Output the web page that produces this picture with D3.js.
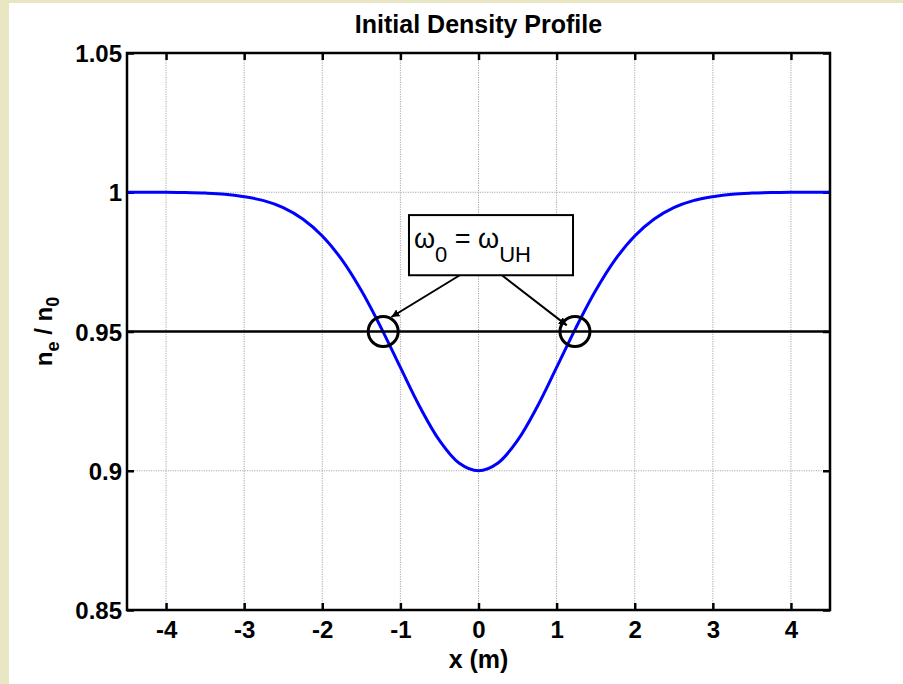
<!DOCTYPE html>
<html><head><meta charset="utf-8">
<script src="https://cdn.jsdelivr.net/npm/d3@7"></script>
<style>
html,body{margin:0;padding:0;background:#e9e6c4;}
svg{display:block;}
text{font-family:"Liberation Sans",Arial,Helvetica,sans-serif;}
</style></head>
<body>
<svg id="chart" width="903" height="684"></svg>
<script>
// ---- data ----
const xValues = [-4.5,-4.25,-4,-3.75,-3.5,-3.25,-3,-2.75,-2.5,-2.25,-2,-1.75,-1.5,-1.25,-1,-0.75,-0.5,-0.25,0,
                 0.25,0.5,0.75,1,1.25,1.5,1.75,2,2.25,2.5,2.75,3,3.25,3.5,3.75,4,4.25,4.5];
const densityValues = [1.0,1.0,1.0,0.9999,0.9997,0.9993,0.9984,0.9970,0.9945,0.9904,0.9843,0.9758,0.9647,0.9515,0.9371,0.9229,0.9109,0.9028,0.9,
                 0.9028,0.9109,0.9229,0.9371,0.9515,0.9647,0.9758,0.9843,0.9904,0.9945,0.9970,0.9984,0.9993,0.9997,0.9999,1.0,1.0,1.0];
const xTicks = [-4,-3,-2,-1,0,1,2,3,4];
const xTickLabels = ["-4","-3","-2","-1","0","1","2","3","4"];
const yTicks = [0.85,0.9,0.95,1,1.05];
const yTickLabels = ["0.85","0.9","0.95","1","1.05"];
const thresholdValue = 0.95;
const crossingX = [-1.22, 1.235];

const svg = d3.select("#chart");
// white figure area over the parchment background
svg.append("rect").attr("x",9).attr("y",3).attr("width",903-9).attr("height",684-3).attr("fill","#fff");

const L=127, R=830, T=53, B=610;
const x = d3.scaleLinear().domain([-4.5,4.5]).range([L,R]);
const y = d3.scaleLinear().domain([0.85,1.05]).range([B,T]);

// grid
const grid = svg.append("g").attr("stroke","#a8a8a8").attr("stroke-width",1).attr("stroke-dasharray","1.2,1.2");
xTicks.forEach(t=>grid.append("line").attr("x1",x(t)).attr("x2",x(t)).attr("y1",T).attr("y2",B));
yTicks.forEach(t=>grid.append("line").attr("x1",L).attr("x2",R).attr("y1",y(t)).attr("y2",y(t)));

// axes (ticks inward)
const fs = "24px";
const axB = svg.append("g").attr("transform",`translate(0,${B})`)
  .call(d3.axisBottom(x).tickValues(xTicks).tickSize(-7).tickPadding(11).tickFormat((d,i)=>xTickLabels[i]));
const axT = svg.append("g").attr("transform",`translate(0,${T})`)
  .call(d3.axisTop(x).tickValues(xTicks).tickSize(-7).tickFormat(""));
const axL = svg.append("g").attr("transform",`translate(${L},0)`)
  .call(d3.axisLeft(y).tickValues(yTicks).tickSize(-7).tickPadding(5).tickFormat((d,i)=>yTickLabels[i]));
const axR = svg.append("g").attr("transform",`translate(${R},0)`)
  .call(d3.axisRight(y).tickValues(yTicks).tickSize(-7).tickFormat(""));
[axB,axT,axL,axR].forEach(a=>{
  a.select(".domain").remove();
  a.selectAll(".tick line").attr("stroke","#000").attr("stroke-width",2.5);
  a.selectAll(".tick text").attr("fill","#000").style("font-size",fs).style("font-weight","bold")
   .style("font-family","'Liberation Sans',Arial,sans-serif");
});
axL.selectAll(".tick text").attr("dy","0.36em");

// data line
const line = d3.line().x((d,i)=>x(xValues[i])).y(d=>y(d)).curve(d3.curveCatmullRom);
svg.append("path").datum(densityValues).attr("d",line).attr("fill","none").attr("stroke","#0000ff").attr("stroke-width",3);

// threshold line
svg.append("line").attr("x1",L).attr("x2",R).attr("y1",y(thresholdValue)).attr("y2",y(thresholdValue))
  .attr("stroke","#000").attr("stroke-width",2.5);

// frame
svg.append("rect").attr("x",L).attr("y",T).attr("width",R-L).attr("height",B-T)
  .attr("fill","none").attr("stroke","#000").attr("stroke-width",2.5);

// circles
crossingX.forEach(cx=>svg.append("circle").attr("cx",x(cx)).attr("cy",y(thresholdValue)).attr("r",15)
  .attr("fill","none").attr("stroke","#000").attr("stroke-width",3));

// annotation arrows
svg.append("defs").append("marker").attr("id","ah").attr("viewBox","0 0 10 10").attr("refX",10).attr("refY",5)
  .attr("markerWidth",8).attr("markerHeight",8).attr("markerUnits","userSpaceOnUse").attr("orient","auto")
  .append("path").attr("d","M0,0 L10,5 L0,10 z").attr("fill","#000");
const arrows = [[[-0.24,0.9702],[-1.115,0.9552]],[[0.30,0.9702],[1.13,0.9522]]];
arrows.forEach(a=>svg.append("line").attr("x1",x(a[0][0])).attr("y1",y(a[0][1])).attr("x2",x(a[1][0])).attr("y2",y(a[1][1]))
  .attr("stroke","#000").attr("stroke-width",2).attr("marker-end","url(#ah)"));

// annotation box
const bx0=x(-0.89), bx1=x(1.21), by0=y(0.9918), by1=y(0.9702);
svg.append("rect").attr("x",bx0).attr("y",by0).attr("width",bx1-bx0).attr("height",by1-by0)
  .attr("fill","#fff").attr("stroke","#000").attr("stroke-width",2);
const ann = svg.append("text").attr("x",bx0+5).attr("y",by0+33).style("font-size","27px").attr("fill","#000");
ann.append("tspan").text("ω");
ann.append("tspan").attr("dy",14).style("font-size","22px").text("0");
ann.append("tspan").attr("dy",-14).text(" = ω");
ann.append("tspan").attr("dy",14).style("font-size","22px").text("UH");

// title
svg.append("text").attr("x",(L+R)/2).attr("y",33).attr("text-anchor","middle")
  .style("font-size","25px").style("font-weight","bold").text("Initial Density Profile");

// x label
svg.append("text").attr("x",(L+R)/2).attr("y",668).attr("text-anchor","middle")
  .style("font-size","25px").style("font-weight","bold").text("x (m)");

// y label
const yl = svg.append("text").attr("transform",`translate(52,${(T+B)/2}) rotate(-90)`).attr("text-anchor","middle")
  .style("font-size","24px").style("font-weight","bold");
yl.append("tspan").text("n");
yl.append("tspan").attr("dy",7).style("font-size","18px").text("e");
yl.append("tspan").attr("dy",-7).text(" / n");
yl.append("tspan").attr("dy",7).style("font-size","18px").text("0");
</script>
</body></html>
